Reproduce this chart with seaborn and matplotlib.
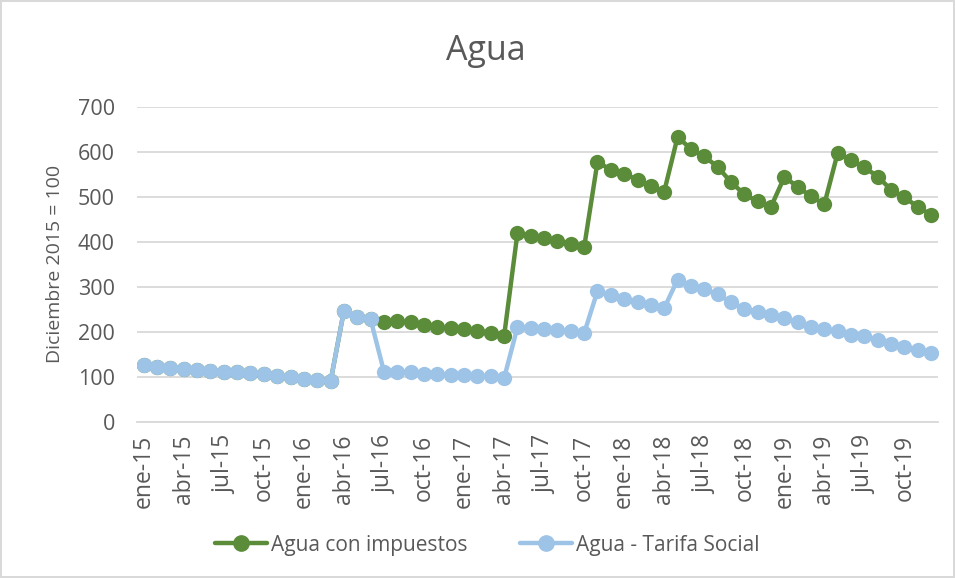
import matplotlib
matplotlib.use("Agg")
import matplotlib.pyplot as plt
import numpy as np
import pandas as pd
import seaborn as sns

# monthly, ene-15 .. dic-19
meses = ['ene', 'feb', 'mar', 'abr', 'may', 'jun', 'jul', 'ago', 'sep', 'oct', 'nov', 'dic']
periodos = [f'{m}-{a}' for a in range(15, 20) for m in meses]

tarifa_social = [127, 123, 119, 117, 116, 114, 112, 110, 108, 107, 102, 99, 95, 93, 90,
                 247, 234, 228,
                 112, 112, 110, 107, 106, 105, 104, 103, 101, 97,
                 210, 208, 206, 204, 201, 197,
                 291, 281, 273, 267, 260, 253, 316, 302, 295, 284, 266, 251, 244, 238,
                 230, 222, 212, 206, 201, 193, 190, 182, 173, 167, 160, 154]

# until jun-16 the series coincides with the social tariff
con_impuestos = tarifa_social[:18] + [
    223, 224, 221, 216, 210, 208, 206, 201, 197, 190,
    419, 414, 408, 403, 396, 388,
    578, 560, 552, 538, 524, 512, 633, 607, 590, 567, 533, 506, 490, 478,
    544, 523, 501, 484, 598, 581, 566, 545, 516, 499, 478, 460]

SERIES = ['Agua con impuestos', 'Agua - Tarifa Social']
COLORS = ['#5B8C3A', '#9DC3E6']
TXT = '#595959'

df = pd.DataFrame({'idx': range(len(periodos)), 'periodo': periodos,
                   SERIES[0]: con_impuestos, SERIES[1]: tarifa_social})
tidy = df.melt(id_vars=['idx', 'periodo'], var_name='serie', value_name='valor')

sns.set_style('white')
plt.rcParams['font.family'] = ['Open Sans', 'DejaVu Sans']

fig = plt.figure(figsize=(9.55, 5.78), dpi=100)
fig.patch.set_edgecolor('#d9d9d9')
fig.patch.set_linewidth(1.5)
ax = fig.add_axes([0.1435, 0.27, 0.8385, 0.545])

sns.lineplot(data=tidy, x='idx', y='valor', hue='serie', hue_order=SERIES,
             palette=COLORS, marker='o', markersize=11, markeredgewidth=0,
             linewidth=3.2, ax=ax, legend=False)

ax.set_xlim(-0.5, len(periodos) - 0.5)
ax.set_ylim(0, 700)
ax.set_yticks(range(0, 701, 100))
ax.yaxis.grid(True, color='#d9d9d9', linewidth=1.3)
ax.set_xticks(range(0, len(periodos), 3))
ax.set_xticklabels(periodos[::3], rotation=90, fontsize=16.5, color=TXT)
ax.tick_params(axis='y', labelsize=15.5, labelcolor=TXT, length=0, pad=16)
ax.tick_params(axis='x', length=0, pad=9)
for s in ['top', 'right', 'left']:
    ax.spines[s].set_visible(False)
ax.spines['bottom'].set_color('#d9d9d9')
ax.spines['bottom'].set_linewidth(1.3)
ax.set_xlabel('')
ax.set_ylabel('Diciembre 2015 = 100', fontsize=14, color=TXT, labelpad=10)

fig.text(0.509, 0.912, 'Agua', ha='center', va='center', fontsize=24.5, color=TXT)

handles = [plt.Line2D([], [], color=c, marker='o', markersize=11, linewidth=3.2) for c in COLORS]
fig.legend(handles, SERIES, loc='center', bbox_to_anchor=(0.51, 0.057), ncol=2,
           frameon=False, fontsize=15, handlelength=2.5, handletextpad=0.2,
           columnspacing=2.5, labelcolor=TXT)

fig.savefig('out.png', dpi=100)
